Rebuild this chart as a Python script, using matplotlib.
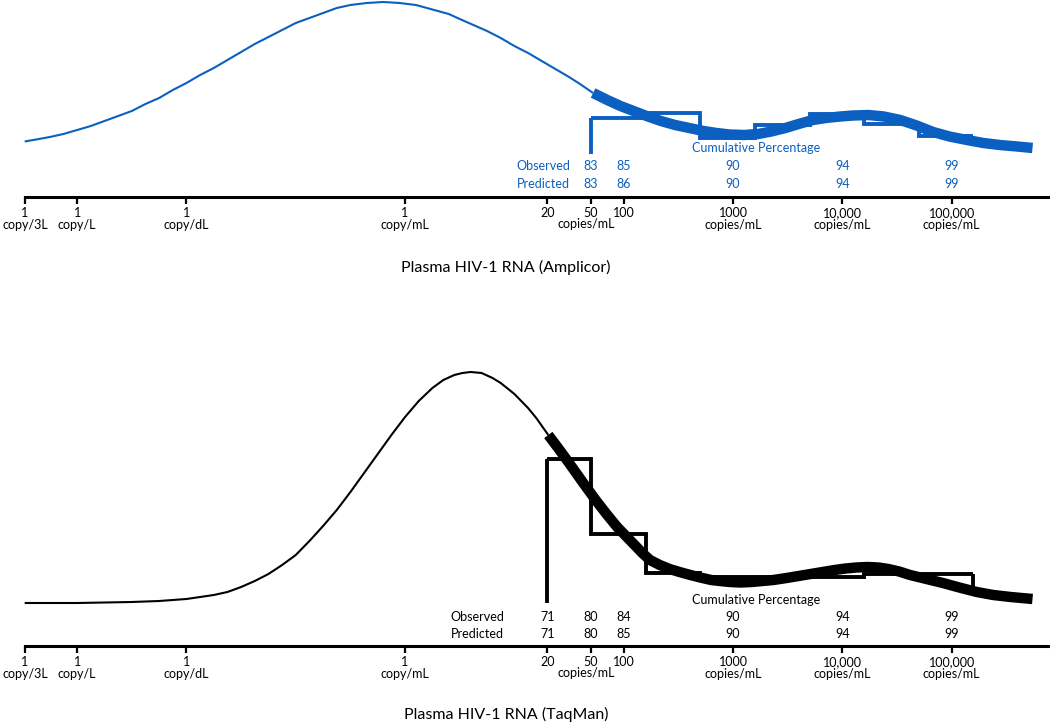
import numpy as np
import matplotlib
matplotlib.use("Agg")
import matplotlib.pyplot as plt

plt.rcParams['font.family'] = ['Lato', 'DejaVu Sans']

# ---------------- data ----------------
# x positions are log10(copies/mL); heights are relative density units
top_curve_thin_log = [-3.48, -3.35, -3.25, -3.125, -3.0, -2.875, -2.75, -2.625, -2.5, -2.375,
                      -2.25, -2.125, -2.0, -1.875, -1.75, -1.625, -1.5, -1.375, -1.25, -1.125,
                      -1.0, -0.875, -0.75, -0.625, -0.5, -0.35, -0.2, -0.05, 0.1, 0.2, 0.3,
                      0.4, 0.5, 0.625, 0.75, 0.875, 1.0, 1.125, 1.25, 1.375, 1.5, 1.6, 1.72]
top_curve_thin_h = [12.5, 15, 17, 20, 24, 28, 33, 38, 43, 50,
                    56, 64, 71, 79, 86, 94, 102, 110, 117, 124,
                    131, 136, 141, 146, 149, 151, 152, 151, 149, 146, 143,
                    140, 135, 129, 123, 116, 108, 101, 93, 85, 77, 70, 61]
top_curve_thick_log = [1.72, 1.85, 1.97, 2.09, 2.21, 2.34, 2.47, 2.6, 2.73, 2.85, 2.97, 3.1,
                       3.23, 3.35, 3.48, 3.6, 3.73, 3.85, 3.98, 4.1, 4.24, 4.38, 4.53, 4.68,
                       4.83, 4.98, 5.14, 5.29, 5.44, 5.6, 5.74]
top_curve_thick_h = [61, 54, 48, 43, 38, 33, 29, 26, 23, 21, 19.5, 19,
                     20, 22.5, 26, 30, 34, 36, 37.5, 38.5, 39, 37.5, 34, 28.5,
                     22, 17.5, 14, 11, 9, 7.5, 6]
top_hist_edges_log = [1.7, 2.2, 2.7, 3.2, 3.7, 4.2, 4.7, 5.2]
top_hist_h = [36, 41, 16, 29, 40, 30, 18]
top_hist_end_h = 13

bot_curve_thin_log = [-3.48, -3.0, -2.5, -2.25, -2.0, -1.875, -1.75, -1.625, -1.5, -1.375,
                      -1.25, -1.125, -1.0, -0.875, -0.75, -0.625, -0.5, -0.375, -0.25, -0.125,
                      0.0, 0.125, 0.25, 0.35, 0.45, 0.525, 0.6, 0.7, 0.8, 0.875, 1.0, 1.125,
                      1.2, 1.31]
bot_curve_thin_h = [0, 0, 1, 2, 4, 6, 8, 11, 16, 22,
                    29, 38, 48, 62, 77, 93, 111, 130, 149, 168,
                    186, 202, 215, 223, 228, 230, 231, 230, 225, 220, 209, 195,
                    185, 168]
bot_curve_thick_log = [1.31, 1.4, 1.5, 1.63, 1.75, 1.85, 1.94, 2.02, 2.1, 2.17, 2.24, 2.33,
                       2.42, 2.51, 2.61, 2.7, 2.8, 2.88, 2.97, 3.07, 3.17, 3.27, 3.37, 3.49,
                       3.6, 3.71, 3.82, 3.93, 4.03, 4.13, 4.23, 4.33, 4.42, 4.52, 4.62, 4.77,
                       4.92, 5.07, 5.23, 5.38, 5.54, 5.64, 5.74]
bot_curve_thick_h = [168, 155, 140, 120, 102, 88, 76, 67, 58, 50, 43, 38,
                     34, 31, 28, 25.5, 23, 22, 21, 20.5, 21, 22, 23, 25,
                     27, 29, 31, 33, 34.5, 35.5, 36, 35.5, 34, 31.5, 28, 24,
                     20, 15.5, 11, 8, 6, 5, 4]
bot_hist_edges_log = [1.3, 1.7, 2.2, 2.7, 3.2, 3.7, 4.2, 4.7, 5.2]
bot_hist_h = [144, 69, 30, 26, 26, 26, 29, 29]
bot_hist_end_h = 8

tick_vals = [1/3000, 1e-3, 1e-2, 1, 20, 50, 100, 1e3, 1e4, 1e5]
tick_labels = ["1\ncopy/3L", "1\ncopy/L", "1\ncopy/dL", "1\ncopy/mL", "20",
               "50", "100", "1000\ncopies/mL", "10,000\ncopies/mL",
               "100,000\ncopies/mL"]
extra_unit_x = 50
extra_unit_label = "copies/mL"

top_pct_x = [50, 100, 1000, 10000, 100000]
top_observed = [83, 85, 90, 94, 99]
top_predicted = [83, 86, 90, 94, 99]
bot_pct_x = [20, 50, 100, 1000, 10000, 100000]
bot_observed = [71, 80, 84, 90, 94, 99]
bot_predicted = [71, 80, 85, 90, 94, 99]

titles = ["Plasma HIV-1 RNA (Amplicor)", "Plasma HIV-1 RNA (TaqMan)"]

BLUE = '#0B5FC1'
BLACK = '#000000'

W, H = 1050, 725
fig = plt.figure(figsize=(W / 100, H / 100), dpi=100)


def px_axes(left, top, right, bottom):
    return fig.add_axes([left / W, 1 - bottom / H, (right - left) / W, (bottom - top) / H])


def style_axis(ax, ylim):
    ax.set_xscale('log')
    ax.set_xlim(10 ** -3.477, 10 ** 5.90)
    ax.set_ylim(*ylim)
    for s in ['top', 'left', 'right']:
        ax.spines[s].set_visible(False)
    ax.spines['bottom'].set_linewidth(2.2)
    ax.set_yticks([])
    ax.set_xticks(tick_vals)
    ax.set_xticklabels(tick_labels, fontsize=9, linespacing=1.05)
    ax.minorticks_off()
    ax.tick_params(axis='x', length=5, width=1.6, pad=2)
    ax.patch.set_alpha(0)
    ax.annotate(extra_unit_label, xy=(extra_unit_x, 0), xycoords=ax.get_xaxis_transform(),
                xytext=(-3, -19.6), textcoords='offset points', ha='center', va='center',
                fontsize=9)


def draw_panel(ax, color, thin_log, thin_h, thick_log, thick_h, edges_log, hist_h, end_h,
               pct_x, observed, predicted, obs_label_x, row_y):
    ax.plot(10 ** np.array(thin_log), thin_h, color=color, lw=1.5, clip_on=False,
            solid_capstyle='butt', solid_joinstyle='round')
    edges = 10 ** np.array(edges_log)
    ax.stairs(hist_h, edges, baseline=None, color=color, lw=2.8)
    ax.plot([edges[0], edges[0]], [0, hist_h[0]], color=color, lw=2.8, solid_capstyle='butt')
    ax.plot([edges[-1], edges[-1]], [hist_h[-1], end_h], color=color, lw=2.8,
            solid_capstyle='butt')
    ax.plot(10 ** np.array(thick_log), thick_h, color=color, lw=7.5, solid_capstyle='butt',
            solid_joinstyle='round', clip_on=False)
    cum_y, obs_y, pred_y = row_y
    ax.text(10 ** 3.21, cum_y, "Cumulative Percentage", color=color, fontsize=9,
            ha='center', va='center')
    ax.text(obs_label_x, obs_y, "Observed", color=color, fontsize=9, ha='right', va='center')
    ax.text(obs_label_x, pred_y, "Predicted", color=color, fontsize=9, ha='right', va='center')
    for x, o, p in zip(pct_x, observed, predicted):
        ax.text(x, obs_y, str(o), color=color, fontsize=9, ha='center', va='center')
        ax.text(x, pred_y, str(p), color=color, fontsize=9, ha='center', va='center')


ax1 = px_axes(25, 0, 1050, 197)
style_axis(ax1, (-43, 154))
draw_panel(ax1, BLUE, top_curve_thin_log, top_curve_thin_h, top_curve_thick_log,
           top_curve_thick_h, top_hist_edges_log, top_hist_h, top_hist_end_h,
           top_pct_x, top_observed, top_predicted, 10 ** 1.51, (6, -12, -30))

ax2 = px_axes(25, 360, 1050, 646)
style_axis(ax2, (-43, 243))
draw_panel(ax2, BLACK, bot_curve_thin_log, bot_curve_thin_h, bot_curve_thick_log,
           bot_curve_thick_h, bot_hist_edges_log, bot_hist_h, bot_hist_end_h,
           bot_pct_x, bot_observed, bot_predicted, 10 ** 0.906, (3, -14, -31))

fig.text(506 / W, 1 - 267 / H, titles[0], fontsize=11.5, ha='center', va='center')
fig.text(506 / W, 1 - 714 / H, titles[1], fontsize=11.5, ha='center', va='center')

fig.savefig("out.png", dpi=100)
